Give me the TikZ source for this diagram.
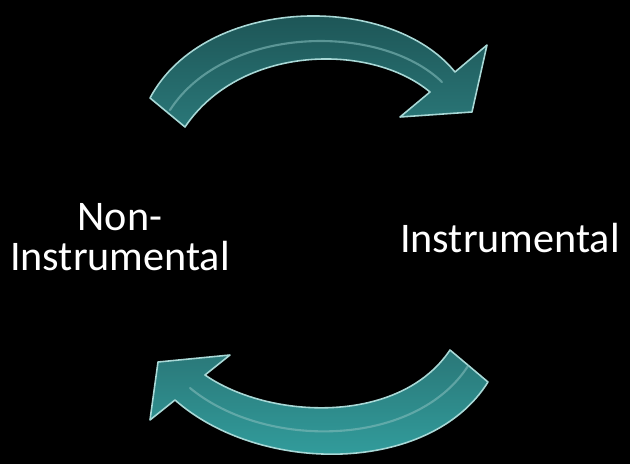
\documentclass[tikz,border=0pt]{standalone}
\usepackage{fontspec}
\setmainfont{Carlito}
\begin{document}
\begin{tikzpicture}[x=0.02cm,y=-0.02cm,
  label/.style={text=white,font=\fontsize{24}{23}\selectfont,align=center,inner sep=0pt},
  bandtop/.style={draw=teallight,line width=0.9pt,line join=round,top color=tealdark,bottom color=tealmid},
  bandbot/.style={draw=teallight,line width=0.9pt,line join=round,top color=tealmid,bottom color=tealbright},
  shine/.style={draw=teallight!70!tealmid,line width=1.2pt,line cap=round,opacity=0.6}]
\definecolor{tealdark}{HTML}{1B4F50}
\definecolor{tealmid}{HTML}{2A7778}
\definecolor{tealbright}{HTML}{33A3A2}
\definecolor{teallight}{HTML}{A8D8D6}
\fill[black] (0,0) rectangle (630,464);
\useasboundingbox (0,0) rectangle (630,464);
% top arrow
\path[bandtop] (150,98) .. controls (205,-5) and (390,-8) .. (455,72) -- (487,45) -- (472,112) -- (400,117) -- (430,92) .. controls (370,42) and (240,45) .. (185,127) -- cycle;
\path[shine] (170,110) .. controls (225,25) and (380,22) .. (442,82);
% bottom arrow
\path[bandbot] (488,382) .. controls (430,475) and (260,475) .. (175,400) -- (150,420) -- (158,362) -- (230,355) -- (205,375) .. controls (270,420) and (400,425) .. (450,350) -- cycle;
\path[shine] (468,366) .. controls (415,448) and (265,450) .. (190,388);
% labels
\node[label] (non) at (120,237) {Non-\\Instrumental};
\node[label] (ins) at (510,238) {Instrumental};
\end{tikzpicture}
\end{document}
